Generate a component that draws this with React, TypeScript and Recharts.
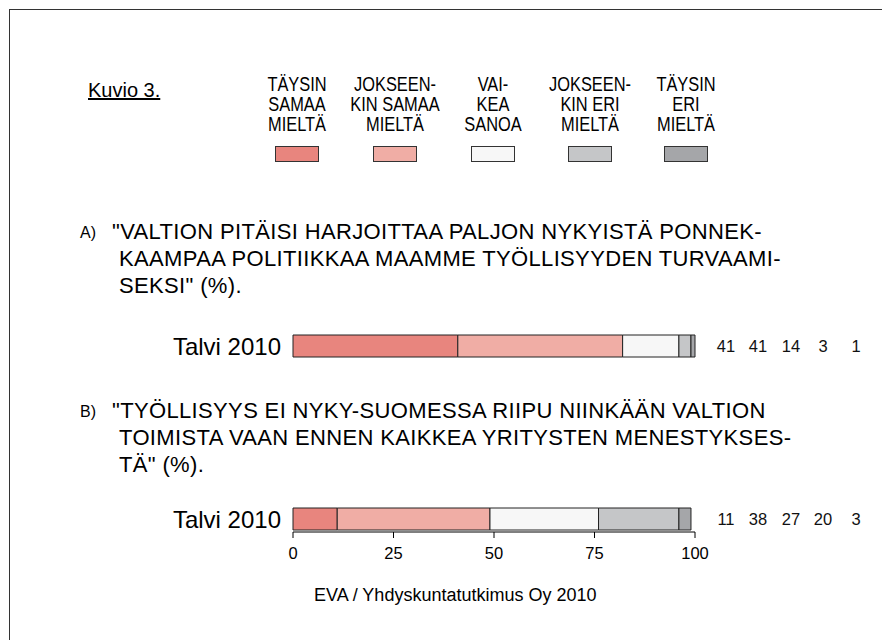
import { BarChart, Bar, XAxis, YAxis, LabelList } from 'recharts';

const seriesKeys = ['tsm', 'jsm', 'vs', 'jem', 'tem'];
const seriesLabels = [
  ['TÄYSIN', 'SAMAA', 'MIELTÄ'],
  ['JOKSEEN-', 'KIN SAMAA', 'MIELTÄ'],
  ['VAI-', 'KEA', 'SANOA'],
  ['JOKSEEN-', 'KIN ERI', 'MIELTÄ'],
  ['TÄYSIN', 'ERI', 'MIELTÄ'],
];
const seriesColors = ['#E8857E', '#F0ADA5', '#F7F7F7', '#C5C6C8', '#A5A6A9'];

const categoryA = ['Talvi 2010'];
const valuesA = [41, 41, 14, 3, 1];
const categoryB = ['Talvi 2010'];
const valuesB = [11, 38, 27, 20, 3];

const xTicks = [0, 25, 50, 75, 100];

const questionA = [
  '"VALTION PITÄISI HARJOITTAA PALJON NYKYISTÄ PONNEK-',
  'KAAMPAA POLITIIKKAA MAAMME TYÖLLISYYDEN TURVAAMI-',
  'SEKSI" (%).',
];
const questionB = [
  '"TYÖLLISYYS EI NYKY-SUOMESSA RIIPU NIINKÄÄN VALTION',
  'TOIMISTA VAAN ENNEN KAIKKEA YRITYSTEN MENESTYKSES-',
  'TÄ" (%).',
];

const sans = '"Liberation Sans", Arial, sans-serif';
const SQ = 0.82; // squeeze for the narrow legend text

// fixed columns for the value numbers at the right
const valueCols = [726, 758, 791, 823, 856];

const toRow = (cat: string[], vals: number[]) => {
  const row: any = { name: cat[0] };
  seriesKeys.forEach((k, i) => (row[k] = vals[i]));
  return [row];
};

const makeValueLabel = (i: number) => (props: any) => {
  const { y, height, value } = props;
  return (
    <text x={valueCols[i]} y={y + height / 2} textAnchor="middle" dominantBaseline="central" fontSize={16.5} fontFamily={sans} fill="#111">
      {value}
    </text>
  );
};

const CatTick = (props: any) => {
  const { x, y, payload } = props;
  return (
    <text x={x} y={y} textAnchor="end" dominantBaseline="central" fontSize={24} fontFamily={sans} fill="#000">
      {payload.value}
    </text>
  );
};

const NumTick = (props: any) => {
  const { x, y, payload } = props;
  return (
    <text x={x} y={y} textAnchor="middle" dominantBaseline="hanging" fontSize={16.5} fontFamily={sans} fill="#000">
      {payload.value}
    </text>
  );
};

const PAD = 12;

function StackRow({ data, top, height, withAxis }: { data: any[]; top: number; height: number; withAxis?: boolean }) {
  return (
    <div style={{ position: 'absolute', left: 0, top: top - PAD }}>
      <BarChart
        width={882}
        height={height + PAD}
        data={data}
        layout="vertical"
        margin={{ top: PAD, right: 187, left: 0, bottom: 0 }}
        barSize={22}
        barCategoryGap={0}
      >
        <XAxis
          type="number"
          domain={[0, 100]}
          ticks={xTicks}
          hide={!withAxis}
          height={40}
          tickSize={6}
          tickMargin={9}
          axisLine={{ stroke: '#000' }}
          tickLine={{ stroke: '#000' }}
          tick={<NumTick />}
        />
        <YAxis
          type="category"
          dataKey="name"
          width={293}
          axisLine={false}
          tickLine={false}
          tickMargin={6}
          tick={<CatTick />}
        />
        {seriesKeys.map((k, i) => (
          <Bar key={k} dataKey={k} stackId="s" fill={seriesColors[i]} stroke="#222" strokeWidth={1} isAnimationActive={false}>
            <LabelList dataKey={k} content={makeValueLabel(i)} />
          </Bar>
        ))}
      </BarChart>
    </div>
  );
}

function Question({ letter, lines, top }: { letter: string; lines: string[]; top: number }) {
  return (
    <div style={{ position: 'absolute', left: 80, top, fontFamily: sans, color: '#000' }}>
      <div style={{ position: 'absolute', left: 0, top: 3, fontSize: 16, lineHeight: '20px' }}>{letter}</div>
      {lines.map((l, i) => (
        <div key={i} style={{ position: 'absolute', left: i === 0 ? 32 : 39, top: i * 27, fontSize: 22, letterSpacing: 0.35, whiteSpace: 'nowrap', lineHeight: '24px' }}>
          {l}
        </div>
      ))}
    </div>
  );
}

const legendCenters = [297, 395, 493, 590, 686];

export default function App() {
  return (
    <div style={{ position: 'absolute', left: 0, top: 0, width: 882, height: 640, background: '#fff', overflow: 'hidden', fontFamily: sans }}>
      <div style={{ position: 'absolute', left: 9, top: 9, width: 900, height: 700, borderTop: '1px solid #333', borderLeft: '1px solid #333' }} />
      <div style={{ position: 'absolute', left: 88, top: 78, fontSize: 20, lineHeight: '24px', textDecoration: 'underline', whiteSpace: 'nowrap' }}>
        Kuvio 3.
      </div>
      {seriesLabels.map((lbl, i) => (
        <div key={i} style={{ position: 'absolute', left: legendCenters[i] - 60, width: 120, top: 74, textAlign: 'center' }}>
          <div style={{ fontSize: 20, lineHeight: '20px', transform: `scaleX(${SQ})`, whiteSpace: 'nowrap' }}>
            {lbl.map((t, j) => (
              <div key={j}>{t}</div>
            ))}
          </div>
          <div style={{ margin: '12px auto 0', width: 42, height: 14, background: seriesColors[i], border: '1px solid #333' }} />
        </div>
      ))}
      <Question letter="A)" lines={questionA} top={220} />
      <StackRow data={toRow(categoryA, valuesA)} top={316} height={60} />
      <Question letter="B)" lines={questionB} top={399} />
      <StackRow data={toRow(categoryB, valuesB)} top={506} height={66} withAxis />
      <div style={{ position: 'absolute', left: 314, top: 584, fontSize: 18, lineHeight: '22px', whiteSpace: 'nowrap' }}>
        EVA / Yhdyskuntatutkimus Oy 2010
      </div>
    </div>
  );
}
